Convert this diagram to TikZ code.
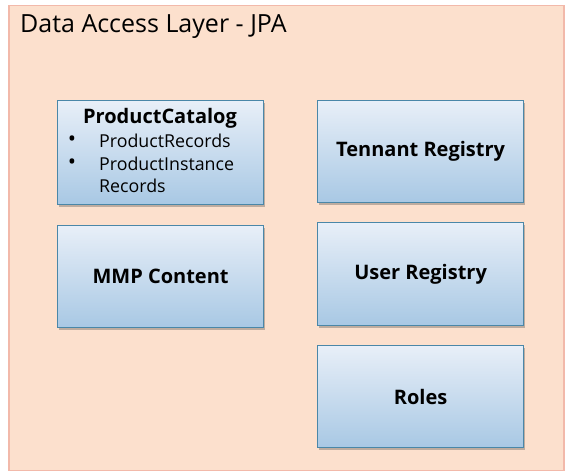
\documentclass[tikz,border=0pt]{standalone}
\usepackage{fontspec}
\setmainfont{Open Sans}
\usetikzlibrary{shadows}
\definecolor{layerfill}{HTML}{FCE0CD}
\definecolor{layerline}{HTML}{F2B9AA}
\definecolor{boxline}{HTML}{4A87A8}
\definecolor{boxtop}{HTML}{E8EFF8}
\definecolor{boxbot}{HTML}{A8C8E4}
\tikzset{
  entity/.style={draw=boxline, line width=1.2pt, top color=boxtop, bottom color=boxbot,
    drop shadow={shadow xshift=1pt, shadow yshift=-2.5pt, opacity=0.35, fill=black!70},
    minimum width=206pt, minimum height=103pt, inner sep=0pt, anchor=north west,
    font=\fontsize{20}{22}\selectfont\bfseries, align=center},
  item/.style={font=\fontsize{17.8}{22}\selectfont, anchor=west, inner sep=0pt},
  dot/.style={font=\fontsize{22}{22}\selectfont, inner sep=0pt}
}
\begin{document}
\begin{tikzpicture}[x=1pt, y=-1pt]
  \useasboundingbox (0,0) rectangle (566,473);
  % outer layer
  \node[draw=layerline, fill=layerfill, line width=1.5pt, minimum width=555pt, minimum height=465pt,
        anchor=north west, inner sep=0pt] (layer) at (8,5) {};
  \node[anchor=west, inner sep=0pt, font=\fontsize{25}{30}\selectfont] (title) at (20,27) {Data Access Layer - JPA};
  % entity boxes
  \node[entity, minimum height=104pt] (catalog) at (57,100) {};
  \node[inner sep=0pt, font=\fontsize{20}{22}\selectfont\bfseries] (cattitle) at (160,118) {ProductCatalog};
  \node[dot] (b1) at (72,141) {•};
  \node[item] (i1) at (99,141) {ProductRecords};
  \node[dot] (b2) at (72,164) {•};
  \node[item] (i2) at (99,164) {ProductInstance};
  \node[item] (i3) at (99,186) {Records};
  \node[entity, minimum height=102pt] (mmp) at (57,225) {MMP Content};
  \node[entity, minimum height=102pt] (tenant) at (317,100) {Tennant Registry};
  \node[entity, minimum height=103pt] (user) at (317,222) {User Registry};
  \node[entity, minimum height=102pt] (roles) at (317,345) {Roles};
\end{tikzpicture}
\end{document}
